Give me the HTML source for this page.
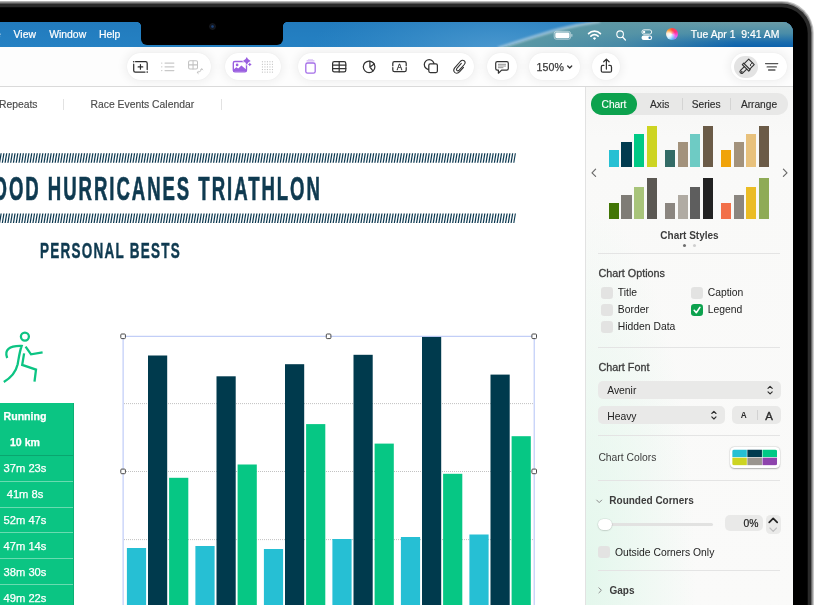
<!DOCTYPE html>
<html lang="en">
<head>
<meta charset="utf-8">
<title>Numbers – Chart Format</title>
<style>
*{box-sizing:border-box;margin:0;padding:0}
html,body{width:814px;height:606px;overflow:hidden;background:#fff}
body{position:relative;font-family:"Liberation Sans",sans-serif;color:#3a3a3a;-webkit-font-smoothing:antialiased}
.abs{position:absolute}
#stage{position:absolute;left:0;top:0;width:814px;height:605px;overflow:hidden;background:#fff}
/* bezel */
#bz1{left:-100px;top:1.2px;width:913.5px;height:800px;border-radius:31.5px;background:#a6a6a6;box-shadow:inset 0 0 0 1.2px #b9b9b9, inset 0 0 2px 1.5px #6a6a6a}
#bz2{left:-100px;top:3.5px;width:911.3px;height:800px;border-radius:29.5px;background:#282828}
#bz3{left:-100px;top:7.3px;width:907.6px;height:800px;border-radius:26px;background:#000}
#screen{left:0;top:21.6px;width:792.6px;height:700px;border-top-right-radius:10px;overflow:hidden;background:#fff}
/* menubar */
#menubar{left:0;top:0;width:793px;height:25px;background:#2080c3;z-index:3}
#menubar .mi{position:absolute;top:0;height:24px;line-height:25px;-webkit-text-stroke:.2px #fff;font-size:10.4px;color:#fff;white-space:nowrap;letter-spacing:0}
#notch{left:141px;top:0;width:142px;height:23.5px;background:#000;border-radius:0 0 6px 6px}
/* toolbar */
#toolbar{left:0;top:24.4px;width:793px;height:41px;background:#fdfdfd}
#tbline{left:0;top:64.6px;width:793px;height:1px;background:#dadada;z-index:2}
.pill{position:absolute;top:7.5px;height:27px;border-radius:13.5px;background:#fff;box-shadow:0 0 8px 3px rgba(0,0,0,.05),0 0 1.5px rgba(0,0,0,.05)}
.ic{position:absolute;overflow:visible}
/* tabs */
#tabs{left:0;top:65.4px;width:585px;height:36px;background:#fff}
#tabs .t{position:absolute;top:0;height:36px;line-height:36.6px;font-size:10.35px;color:#4c4c4c;white-space:nowrap;-webkit-text-stroke:.15px #4c4c4c}
#tabs .sep{position:absolute;top:12px;width:1px;height:11px;background:#e2e2e2}
/* doc */
.hatch{position:absolute;left:-4px;width:520.5px;height:9.5px;
 background:repeating-linear-gradient(100deg,#123a50 0,#123a50 1.05px,#fff 1.05px,#fff 2.15px)}
.cond{position:absolute;white-space:nowrap;font-weight:bold;color:#0f3a50;transform-origin:0 0}
/* sidebar */
#side{left:585px;top:65.4px;width:208px;height:540px;background:radial-gradient(ellipse 110px 380px at 0% 92%,#e3f7ec,rgba(227,247,236,0)),linear-gradient(#f6f6f5 0,#f9f9f8 50px,#fafaf9 100%);border-left:1px solid #e2e2e2}
#side .lbl{position:absolute;font-size:10.35px;color:#3c3c3c;white-space:nowrap;line-height:14px}
#side .b{font-weight:bold}
#side .hr{position:absolute;left:13px;width:182px;height:1px;background:#e4e4e4}
.cb{position:absolute;width:12px;height:12px;border-radius:3.2px;background:#e3e3e2}
.dd{position:absolute;height:18px;border-radius:5px;background:#e9e9e8}

.tc{left:-25px;width:100px;text-align:center;color:#fff;-webkit-text-stroke:.25px #fff;font-size:11.2px;line-height:14px;white-space:nowrap}
.b{font-weight:bold}
.grid{left:123px;width:411px;height:1px;background:repeating-linear-gradient(90deg,#cfcfcf 0,#cfcfcf 1px,transparent 1px,transparent 2px)}
.hd{width:5.2px;height:5.2px;background:#fff;border:1px solid #555;border-radius:1px}
#side .m{-webkit-text-stroke:.3px #3c3c3c;font-size:10.8px}
#side .b{font-size:10px}
#side .d{color:#232323}
#side .seg{-webkit-text-stroke:.15px currentColor}
#side .seg{font-size:10.2px}
</style>
</head>
<body>
<div id="stage">
 <svg class="abs" style="left:0;top:0" width="814" height="606" viewBox="0 0 814 606">
  <defs><linearGradient id="bzg" x1="0" y1="0" x2="1" y2="1"><stop offset="0" stop-color="#b0b0b0"/><stop offset=".5" stop-color="#c4c4c4"/><stop offset="1" stop-color="#a8a8a8"/></linearGradient></defs>
  <rect x="-100" y="0.9" width="913.7" height="800" rx="32" fill="url(#bzg)"/>
  <rect x="-100" y="2.1" width="912.5" height="800" rx="30.8" fill="#858585"/>
  <rect x="-100" y="3.5" width="911.3" height="800" rx="29.6" fill="#2a2a2a"/>
  <rect x="-100" y="7.3" width="907.7" height="800" rx="26" fill="#000"/>
 </svg>
 <div class="abs" id="screen">
  <div class="abs" id="menubar">
   <svg class="abs" style="left:0;top:0" width="793" height="25" viewBox="0 22 793 24" preserveAspectRatio="none">
    <defs>
     <linearGradient id="mbL" x1="0" y1="0" x2="0" y2="1"><stop offset="0" stop-color="#227bbd"/><stop offset="1" stop-color="#2581c3"/></linearGradient>
     <radialGradient id="mbG" gradientUnits="userSpaceOnUse" cx="500" cy="50" r="190" gradientTransform="translate(0 34) scale(1 .32)"><stop offset="0" stop-color="#4f9bd0" stop-opacity=".95"/><stop offset="1" stop-color="#3a8cc6" stop-opacity="0"/></radialGradient>
     <linearGradient id="mbR" x1="0" y1="0" x2="0" y2="1"><stop offset="0" stop-color="#6a9ca7"/><stop offset=".45" stop-color="#4a8da8"/><stop offset=".8" stop-color="#1b6dad"/><stop offset="1" stop-color="#0c62ad"/></linearGradient>
     <linearGradient id="mbV" x1="0" y1="0" x2="1" y2="0"><stop offset="0" stop-color="#5d9aa4" stop-opacity="1"/><stop offset=".4" stop-color="#5b97a5" stop-opacity=".75"/><stop offset=".8" stop-color="#5b97a5" stop-opacity="0"/></linearGradient>
     <filter id="bl" x="-5%" y="-30%" width="110%" height="160%"><feGaussianBlur stdDeviation=".9"/></filter>
    </defs>
    <rect x="0" y="22" width="793" height="24" fill="url(#mbL)"/>
    <rect x="0" y="22" width="793" height="24" fill="url(#mbG)"/>
    <path d="M503 46 C540 36 560 27 596 22 L793 22 L793 46 Z" fill="url(#mbR)"/>
    <path d="M503 46 C540 36 560 27 596 22 L793 22 L793 46 Z" fill="url(#mbV)"/>
    <path d="M498 47 C538 35.5 560 26.5 600 21.5" fill="none" stroke="#a9cadb" stroke-opacity=".85" stroke-width="2.6" filter="url(#bl)"/>
    <!-- battery -->
    <rect x="554.2" y="31" width="16.4" height="7.6" rx="2.2" fill="none" stroke="#fff" stroke-opacity=".55" stroke-width=".9"/>
    <rect x="555.3" y="32.1" width="14.2" height="5.4" rx="1.3" fill="#fff"/>
    <rect x="571.3" y="33.4" width="1.1" height="2.8" rx=".5" fill="#fff" fill-opacity=".6"/>
    <!-- wifi -->
    <g fill="none" stroke="#fff" stroke-width="1.7" stroke-linecap="round">
     <path d="M588.6 33.2 A8.4 8.4 0 0 1 600.4 33.2"/>
     <path d="M590.9 35.6 A5.1 5.1 0 0 1 598.1 35.6"/>
    </g>
    <path d="M592.9 37.5 A2.3 2.3 0 0 1 596.1 37.5 L594.5 39.2 Z" fill="#fff"/>
    <!-- search -->
    <circle cx="620.1" cy="33.8" r="3.3" fill="none" stroke="#fff" stroke-width="1.1"/>
    <path d="M622.6 36.4 L625.4 39.3" stroke="#fff" stroke-width="1.25" stroke-linecap="round"/>
    <!-- control center -->
    <rect x="641.9" y="29.5" width="9.8" height="4.2" rx="2.1" fill="none" stroke="#fff" stroke-width=".85"/>
    <circle cx="644.1" cy="31.6" r="1.15" fill="#fff"/>
    <rect x="641.5" y="34.9" width="10.6" height="4.4" rx="2.2" fill="#fff"/>
    <circle cx="649.7" cy="37.1" r="1.25" fill="#2f79aa"/>
   </svg>
   <div class="abs" style="left:666.1px;top:6.7px;width:11.8px;height:11.8px;border-radius:6px;background:radial-gradient(circle at 36% 58%,rgba(255,255,255,.9) 0,rgba(255,255,255,.55) 22%,rgba(255,255,255,0) 50%),conic-gradient(from 0deg,#ff4a3c,#ff2f86 60deg,#f05cf0 115deg,#46b8ff 180deg,#cfeeff 235deg,#ffe2c4 275deg,#ff9a28 320deg,#ff4a3c)"></div>
   <div class="mi" style="left:-41.3px;opacity:.7">Organize</div>
   <div class="mi" style="left:13.6px">View</div>
   <div class="mi" style="left:49.2px">Window</div>
   <div class="mi" style="left:99px">Help</div>
   <div class="mi" style="left:690.8px">Tue Apr 1&nbsp; 9:41 AM</div>
   <div class="abs" id="notch"><div class="abs" style="left:67.6px;top:1.9px;width:7px;height:7px;border-radius:3.5px;background:radial-gradient(circle,#1b4277 0,#173460 1.1px,#10141c 1.7px,#15171c 3px,#0a0a0c 3.5px)"></div></div>
   <div class="abs" style="left:137px;top:0;width:4px;height:4px;background:radial-gradient(circle at 0 100%,rgba(0,0,0,0) 3.6px,#000 4.2px)"></div>
   <div class="abs" style="left:283px;top:0;width:4px;height:4px;background:radial-gradient(circle at 100% 100%,rgba(0,0,0,0) 3.6px,#000 4.2px)"></div>
  </div>
  <!--MENUBAR_END-->
  <div class="abs" id="toolbar">
   <div class="pill" style="left:126.5px;width:84px"></div>
   <div class="pill" style="left:225px;width:56px"></div>
   <div class="pill" style="left:297.5px;width:176px"></div>
   <div class="pill" style="left:487.3px;width:29.7px"></div>
   <div class="pill" style="left:529.3px;width:50.3px"></div>
   <div class="pill" style="left:592.2px;width:28px"></div>
   <div class="pill" style="left:730.7px;width:56.2px"></div>
   <div class="abs" style="left:734px;top:9.7px;width:24px;height:22px;border-radius:11px;background:#e3e3e3"></div>
   <div class="abs" style="left:536.6px;top:0;height:40px;line-height:42.5px;font-size:10.6px;color:#3b3b3b;letter-spacing:.1px;-webkit-text-stroke:.25px #3b3b3b">150%</div>
   <svg class="abs" style="left:0;top:0" width="793" height="40" viewBox="0 46 793 40" fill="none" stroke-linecap="round" stroke-linejoin="round">
    <!-- 1 insert -->
    <g stroke="#2e2e2e" stroke-width="1.25">
     <path d="M135.6 61.7 H145.6 Q147.2 61.7 147.2 63.3 V69.6"/>
     <path d="M145 72.1 H135.3 Q133.7 72.1 133.7 70.5 V64.2"/>
     <path d="M140.45 64.6 V69.2 M138.15 66.9 H142.75" stroke-width="1.2"/>
    </g>
    <circle cx="133.7" cy="61.7" r=".8" fill="#2e2e2e"/><circle cx="147.2" cy="72.1" r=".8" fill="#2e2e2e"/>
    <!-- 2 list -->
    <g stroke="#c9c9c9" stroke-width="1.1">
     <path d="M165 63.1 H173.9 M165 66.85 H173.9 M165 70.6 H173.9"/>
     <path d="M161.7 63.1 h.1 M161.7 66.85 h.1 M161.7 70.6 h.1" stroke-width="1.4"/>
    </g>
    <!-- 3 grid arrows -->
    <g stroke="#c2c2c2" stroke-width="1.05">
     <rect x="188.6" y="60.7" width="8.9" height="8.3" rx="1.4"/>
     <path d="M193.05 60.7 V69 M188.6 64.85 H197.5"/>
     <path d="M197.3 72.5 Q201.3 72.3 201.7 68.9 M198.3 71.5 L197.1 72.5 L198.3 73.6 M200.6 69.9 L201.7 68.7 L202.8 69.9" stroke-width=".9"/>
    </g>
    <!-- 4 image sparkle -->
    <g>
     <rect x="233.3" y="61.5" width="13.2" height="10.4" rx="1.6" stroke="#9a5fe0" stroke-width="1.35"/>
     <path d="M233.6 69.6 L236.3 67.2 L238.2 68.6 L241.4 65.4 L246.2 69.4 V71 Q246.2 71.6 245.4 71.6 H234.4 Q233.6 71.6 233.6 71 Z" fill="#9a5fe0"/>
     <circle cx="237.1" cy="64.9" r="1.35" fill="#9a5fe0"/>
     <path d="M246.8 57.1 Q247.7 60.1 250.7 61 Q247.7 61.9 246.8 64.9 Q245.9 61.9 242.9 61 Q245.9 60.1 246.8 57.1Z" fill="#9a5fe0" stroke="#fff" stroke-width="1.2" paint-order="stroke"/>
     <path d="M249.8 62.5 Q250.3 63.9 251.7 64.4 Q250.3 64.9 249.8 66.3 Q249.3 64.9 247.9 64.4 Q249.3 63.9 249.8 62.5Z" fill="#9a5fe0" stroke="#fff" stroke-width=".8" paint-order="stroke"/>
    </g>
    <!-- 5 dotted grid -->
    <g fill="#c6c6c6">
     <g id="dr"><rect x="261.9" y="61.2" width="1.1" height="1.1"/><rect x="264.4" y="61.2" width="1.1" height="1.1"/><rect x="266.9" y="61.2" width="1.1" height="1.1"/><rect x="269.4" y="61.2" width="1.1" height="1.1"/><rect x="271.9" y="61.2" width="1.1" height="1.1"/></g>
     <use href="#dr" y="2.6"/><use href="#dr" y="5.2"/><use href="#dr" y="7.8"/><use href="#dr" y="10.4"/>
    </g>
    <!-- 6 purple stack -->
    <g stroke="#a46de8">
     <rect x="305.8" y="63" width="9.4" height="10.2" rx="1.8" stroke-width="1.3"/>
     <path d="M307 60.9 H314" stroke-width="1" stroke-opacity=".65"/>
     <path d="M308.4 59.5 H312.6" stroke-width=".9" stroke-opacity=".35"/>
    </g>
    <!-- 7 table -->
    <g stroke="#333" stroke-width="1.25">
     <rect x="332.6" y="61.7" width="13.2" height="10.2" rx="1.7"/>
     <path d="M332.6 65.1 H345.8 M332.6 68.5 H345.8 M339.2 61.7 V71.9"/>
    </g>
    <!-- 8 pie -->
    <g stroke="#333" stroke-width="1.25">
     <circle cx="369.1" cy="66.8" r="5.8"/>
     <path d="M369.9 61.2 V67 L374.3 64 M369.9 67 L372.9 70.9"/>
    </g>
    <!-- 9 textbox -->
    <g stroke="#333" stroke-width="1.25">
     <path d="M392.8 65.8 V63.3 Q392.8 61.7 394.4 61.7 H404.6 Q406.2 61.7 406.2 63.3 V65.8 M406.2 67.6 V70.1 Q406.2 71.7 404.6 71.7 H394.4 Q392.8 71.7 392.8 70.1 V67.6"/>
    </g>
    <!-- 10 shapes -->
    <g stroke="#333" stroke-width="1.25">
     <circle cx="429.2" cy="64.6" r="4.9"/>
     <rect x="428.8" y="63.9" width="8.6" height="8.6" rx="1.5" fill="#fff"/>
    </g>
    <!-- 11 paperclip -->
    <g stroke="#333" stroke-width="1.1">
     <path d="M461.3 63.4 L456.9 68.3 Q455.9 69.7 457 70.6 Q458.1 71.3 459.2 70.2 L464.3 64.5 Q466.1 62.2 464.1 60.7 Q462.2 59.6 460.3 61.5 L454.7 67.8 Q452.6 70.6 455 72.6 Q457.4 74.2 459.7 71.7 L463.5 67.4"/>
    </g>
    <!-- 12 comment -->
    <g stroke="#333" stroke-width="1.2">
     <path d="M497.3 61.7 H506.7 Q508.3 61.7 508.3 63.3 V68.5 Q508.3 70.1 506.7 70.1 H501.6 L498.4 73.2 V70.1 H497.3 Q495.7 70.1 495.7 68.5 V63.3 Q495.7 61.7 497.3 61.7Z"/>
     <path d="M498.4 64.3 H505.6 M498.4 66 H505.6 M498.4 67.7 H503" stroke="#777" stroke-width=".8"/>
    </g>
    <!-- zoom chevron -->
    <path d="M567.7 66 L569.7 68 L571.7 66" stroke="#333" stroke-width="1.3"/>
    <!-- 13 share -->
    <g stroke="#333" stroke-width="1.25">
     <path d="M603.9 65.4 H602.8 Q601.3 65.4 601.3 66.9 V70.7 Q601.3 72.2 602.8 72.2 H610 Q611.5 72.2 611.5 70.7 V66.9 Q611.5 65.4 610 65.4 H608.9"/>
     <path d="M606.4 69 V59.3 M603.7 61.8 L606.4 59.1 L609.1 61.8"/>
    </g>
    <!-- 14 brush -->
    <g stroke="#333" stroke-width="1.1" transform="translate(746.1 67.3) rotate(45)">
     <path d="M-3.9 -1.2 V-7.6 H3.9 V-1.2"/>
     <path d="M1.2 -7.6 V-4.4 L2.6 -4.4" stroke-width=".9"/>
     <path d="M-4.6 -1.2 H4.6 V.8 H-4.6 Z"/>
     <path d="M-1.7 .8 V6.2 Q-1.7 8 0 8 Q1.7 8 1.7 6.2 V.8"/>
     <circle cx="0" cy="6.3" r=".35"/>
    </g>
    <!-- 15 lines -->
    <g stroke="#555">
     <path d="M765.5 63.6 H777.8" stroke-width="1.1"/>
     <path d="M767.2 66.9 H776.3" stroke-width="1.4"/>
     <path d="M768.6 70.1 H774.9" stroke-width="1.5"/>
    </g>
    <text x="399.5" y="69.6" text-anchor="middle" font-family="Liberation Sans, sans-serif" font-size="8.2" fill="#333" stroke="#333" stroke-width=".3">A</text>
   </svg>
  </div>
  <div class="abs" id="tbline"></div>
  <!--TOOLBAR_END-->
  <div class="abs" id="tabs">
   <div class="t" style="left:-37.3px">Record Repeats</div>
   <div class="sep" style="left:63px"></div>
   <div class="t" style="left:90.6px">Race Events Calendar</div>
   <div class="sep" style="left:220.5px"></div>
  </div>
  <!--TABS_END-->
  <div class="abs" id="doc" style="left:0;top:-21.6px;width:585px;height:640px">
   <svg class="abs" style="left:0;top:150px" width="520" height="76" viewBox="0 150 520 76">
    <g stroke="#0e3a51" stroke-width="9.5" stroke-dasharray="1.25 1.53" fill="none">
     <path d="M-3 157.9 H515.2" transform="translate(25.8 0) skewX(-9.3)"/>
     <path d="M-3 218.3 H515.2" transform="translate(35.7 0) skewX(-9.3)"/>
    </g>
   </svg>
   <div class="cond" id="ttl" style="left:-27px;top:168.9px;font-size:34px;line-height:38px;letter-spacing:3.6px;transform:scaleX(.546);-webkit-text-stroke:.7px #0f3a50">WOOD HURRICANES TRIATHLON</div>
   <div class="cond" id="sub" style="left:40.2px;top:237.7px;font-size:22.8px;line-height:25px;letter-spacing:2.1px;transform:scaleX(.592);-webkit-text-stroke:.5px #0f3a50">PERSONAL BESTS</div>
   <svg class="abs" style="left:0;top:325px" width="60" height="65" viewBox="0 325 60 65" fill="none" stroke="#0cc483" stroke-width="2.3" stroke-linecap="butt" stroke-linejoin="miter">
    <circle cx="24.9" cy="336.6" r="4"/>
    <path d="M7.2 358 C4 350 9 345.6 21.6 346 C19.5 352 18.8 358 17.6 364.5 C15.5 373.5 10.5 378 3.8 382"/>
    <path d="M25.6 346.6 L31 354.3 L42.6 352.4"/>
    <path d="M24.1 353.4 L22.2 364.9 L36 369.6 L34.5 381.6"/>
   </svg>
   <div class="abs" style="left:-30px;top:402.7px;width:103.6px;height:210px;background:#0bc583;border-right:1px solid #0ab075"></div>
   <div class="abs" style="left:-30px;top:455.0px;width:103px;height:1px;background:#0aa56f"></div>
   <div class="abs" style="left:-30px;top:480.8px;width:103px;height:1px;background:#6adbb0"></div>
   <div class="abs" style="left:-30px;top:506.6px;width:103px;height:1px;background:#6adbb0"></div>
   <div class="abs" style="left:-30px;top:532.4px;width:103px;height:1px;background:#6adbb0"></div>
   <div class="abs" style="left:-30px;top:558.2px;width:103px;height:1px;background:#6adbb0"></div>
   <div class="abs" style="left:-30px;top:584.0px;width:103px;height:1px;background:#6adbb0"></div>
   <div class="abs tc b" style="top:408.6px;font-size:10.6px">Running</div>
   <div class="abs tc b" style="top:435.3px;font-size:10.6px">10 km</div>
   <div class="abs tc" style="top:461.0px">37m 23s</div>
   <div class="abs tc" style="top:486.9px">41m 8s</div>
   <div class="abs tc" style="top:512.8px">52m 47s</div>
   <div class="abs tc" style="top:538.7px">47m 14s</div>
   <div class="abs tc" style="top:564.6px">38m 30s</div>
   <div class="abs tc" style="top:590.5px">49m 22s</div>
   <svg class="abs" id="chart" style="left:0;top:320px" width="585" height="300" viewBox="0 320 585 300">
    <g stroke="#c2c2c2" stroke-width="1" stroke-dasharray="1 1" fill="none"><path d="M124 403.6 H534 M124 471.5 H534 M124 539.6 H534"/></g>
    <rect x="126.9" y="548" width="19.2" height="92.0" fill="#26bfd4"/>
    <rect x="148.0" y="355.5" width="19.2" height="284.5" fill="#003a4d"/>
    <rect x="169.1" y="477.8" width="19.2" height="162.2" fill="#06c784"/>
    <rect x="195.4" y="546" width="19.2" height="94.0" fill="#26bfd4"/>
    <rect x="216.5" y="376.3" width="19.2" height="263.7" fill="#003a4d"/>
    <rect x="237.6" y="464.5" width="19.2" height="175.5" fill="#06c784"/>
    <rect x="263.9" y="549" width="19.2" height="91.0" fill="#26bfd4"/>
    <rect x="285.0" y="364.2" width="19.2" height="275.8" fill="#003a4d"/>
    <rect x="306.1" y="424.1" width="19.2" height="215.9" fill="#06c784"/>
    <rect x="332.4" y="539" width="19.2" height="101.0" fill="#26bfd4"/>
    <rect x="353.5" y="354.8" width="19.2" height="285.2" fill="#003a4d"/>
    <rect x="374.6" y="443.6" width="19.2" height="196.4" fill="#06c784"/>
    <rect x="400.9" y="537" width="19.2" height="103.0" fill="#26bfd4"/>
    <rect x="422.0" y="336.8" width="19.2" height="303.2" fill="#003a4d"/>
    <rect x="443.1" y="473.8" width="19.2" height="166.2" fill="#06c784"/>
    <rect x="469.4" y="534.5" width="19.2" height="105.5" fill="#26bfd4"/>
    <rect x="490.5" y="374.6" width="19.2" height="265.4" fill="#003a4d"/>
    <rect x="511.6" y="436.2" width="19.2" height="203.8" fill="#06c784"/>
    <path d="M123.1 640 V336.3 H534.2 V640" fill="none" stroke="#b3c2f6" stroke-width="1"/>
    <rect x="120.8" y="334.0" width="4.6" height="4.6" rx=".9" fill="#fff" stroke="#4a4a4a" stroke-width="1"/>
    <rect x="326.3" y="334.0" width="4.6" height="4.6" rx=".9" fill="#fff" stroke="#4a4a4a" stroke-width="1"/>
    <rect x="531.9" y="334.0" width="4.6" height="4.6" rx=".9" fill="#fff" stroke="#4a4a4a" stroke-width="1"/>
    <rect x="120.8" y="469.1" width="4.6" height="4.6" rx=".9" fill="#fff" stroke="#4a4a4a" stroke-width="1"/>
    <rect x="531.9" y="469.1" width="4.6" height="4.6" rx=".9" fill="#fff" stroke="#4a4a4a" stroke-width="1"/>
   </svg>
  </div>
  <!--DOC_END-->
  <div class="abs" id="side">
   <div class="abs" id="sidein" style="left:-586px;top:-87px;width:793px;height:640px">
    <div class="abs" style="left:591px;top:93px;width:197px;height:21.6px;border-radius:10.8px;background:#e8e8e7"></div>
    <div class="abs" style="left:591px;top:93px;width:46.4px;height:21.6px;border-radius:10.8px;background:#0da24e"></div>
    <div class="abs" style="left:682.3px;top:98px;width:1px;height:12px;background:#d4d4d3"></div>
    <div class="abs" style="left:730.2px;top:98px;width:1px;height:12px;background:#d4d4d3"></div>
    <div class="lbl seg" style="left:574px;top:98px;width:80px;text-align:center;color:#fff">Chart</div>
    <div class="lbl seg" style="left:619.7px;top:98px;width:80px;text-align:center;color:#2e2e2e">Axis</div>
    <div class="lbl seg" style="left:666.2px;top:98px;width:80px;text-align:center;color:#2e2e2e">Series</div>
    <div class="lbl seg" style="left:719px;top:98px;width:80px;text-align:center;color:#2e2e2e">Arrange</div>
    <div class="abs" style="left:608.9px;top:150.4px;width:10.3px;height:16.2px;background:#26c0d3"></div>
    <div class="abs" style="left:621.4px;top:142.3px;width:10.3px;height:24.3px;background:#003b4f"></div>
    <div class="abs" style="left:634.0px;top:134.2px;width:10.3px;height:32.4px;background:#00c985"></div>
    <div class="abs" style="left:646.5px;top:126.1px;width:10.3px;height:40.5px;background:#cdd422"></div>
    <div class="abs" style="left:665.0px;top:150.4px;width:10.3px;height:16.2px;background:#336b66"></div>
    <div class="abs" style="left:677.5px;top:142.3px;width:10.3px;height:24.3px;background:#a3927c"></div>
    <div class="abs" style="left:690.1px;top:134.2px;width:10.3px;height:32.4px;background:#6ecbc4"></div>
    <div class="abs" style="left:702.6px;top:126.1px;width:10.3px;height:40.5px;background:#6b5b47"></div>
    <div class="abs" style="left:721.1px;top:150.4px;width:10.3px;height:16.2px;background:#f0a30a"></div>
    <div class="abs" style="left:733.6px;top:142.3px;width:10.3px;height:24.3px;background:#a3927c"></div>
    <div class="abs" style="left:746.2px;top:134.2px;width:10.3px;height:32.4px;background:#e8c17c"></div>
    <div class="abs" style="left:758.8px;top:126.1px;width:10.3px;height:40.5px;background:#6b5b47"></div>
    <div class="abs" style="left:608.9px;top:202.7px;width:10.3px;height:16.0px;background:#417505"></div>
    <div class="abs" style="left:621.4px;top:194.6px;width:10.3px;height:24.1px;background:#7f7c76"></div>
    <div class="abs" style="left:634.0px;top:186.6px;width:10.3px;height:32.1px;background:#a8c47a"></div>
    <div class="abs" style="left:646.5px;top:178.5px;width:10.3px;height:40.2px;background:#5b5853"></div>
    <div class="abs" style="left:665.0px;top:202.7px;width:10.3px;height:16.0px;background:#8b8680"></div>
    <div class="abs" style="left:677.5px;top:194.6px;width:10.3px;height:24.1px;background:#b0aba3"></div>
    <div class="abs" style="left:690.1px;top:186.6px;width:10.3px;height:32.1px;background:#5e5e5e"></div>
    <div class="abs" style="left:702.6px;top:178.5px;width:10.3px;height:40.2px;background:#222222"></div>
    <div class="abs" style="left:721.1px;top:202.7px;width:10.3px;height:16.0px;background:#f2704a"></div>
    <div class="abs" style="left:733.6px;top:194.6px;width:10.3px;height:24.1px;background:#8b8680"></div>
    <div class="abs" style="left:746.2px;top:186.6px;width:10.3px;height:32.1px;background:#ebbc25"></div>
    <div class="abs" style="left:758.8px;top:178.5px;width:10.3px;height:40.2px;background:#8fab56"></div>
    <svg class="abs" style="left:586px;top:160px" width="207" height="30" viewBox="586 160 207 30" fill="none" stroke="#6a6a6a" stroke-width="1.2" stroke-linecap="round" stroke-linejoin="round"><path d="M595.6 169.2 L592 172.8 L595.6 176.4"/><path d="M783.4 169.2 L787 172.8 L783.4 176.4"/></svg>
    <div class="lbl b" style="left:639.5px;top:228.7px;width:100px;text-align:center">Chart Styles</div>
    <div class="abs" style="left:682.8px;top:243.9px;width:3px;height:3px;border-radius:2px;background:#6e6e6e"></div>
    <div class="abs" style="left:692.8px;top:243.9px;width:3px;height:3px;border-radius:2px;background:#cfcfcf"></div>
    <div class="hr" style="left:598.4px;top:253px"></div>
    <div class="lbl m" style="left:598.4px;top:266.1px">Chart Options</div>
    <div class="cb" style="left:601px;top:287.0px"></div>
    <div class="lbl d" style="left:617.8px;top:286.4px">Title</div>
    <div class="cb" style="left:601px;top:303.9px"></div>
    <div class="lbl d" style="left:617.8px;top:303.3px">Border</div>
    <div class="cb" style="left:601px;top:320.8px"></div>
    <div class="lbl d" style="left:617.8px;top:320.2px">Hidden Data</div>
    <div class="cb" style="left:690.9px;top:287.0px"></div>
    <div class="lbl d" style="left:707.6999999999999px;top:286.4px">Caption</div>
    <div class="cb" style="left:690.9px;top:303.6px;background:#0da24e"></div>
    <svg class="abs" style="left:690.9px;top:303.6px" width="12" height="12" viewBox="0 0 12 12" fill="none" stroke="#fff" stroke-width="1.6" stroke-linecap="round" stroke-linejoin="round"><path d="M3.2 6.3 L5.3 8.7 L8.9 3.4"/></svg>
    <div class="lbl d" style="left:707.7px;top:303.3px">Legend</div>
    <div class="hr" style="left:598.4px;top:346.8px"></div>
    <div class="lbl m" style="left:598.4px;top:360.3px">Chart Font</div>
    <div class="dd" style="left:598.2px;top:381.1px;width:182.4px"></div>
    <div class="lbl d" style="left:607.2px;top:384.2px">Avenir</div>
    <div class="dd" style="left:598.2px;top:406.2px;width:126.4px"></div>
    <div class="lbl d" style="left:607.2px;top:409.9px">Heavy</div>
    <div class="dd" style="left:732px;top:406.2px;width:48.6px"></div>
    <div class="abs" style="left:756.5px;top:410.5px;width:1px;height:9.5px;background:#d2d2d2"></div>
    <div class="lbl" style="left:733.8px;top:409.3px;width:20px;text-align:center;font-size:8.2px;font-weight:bold;color:#2b2b2b">A</div>
    <div class="lbl" style="left:759px;top:408.6px;width:20px;text-align:center;font-size:11.4px;-webkit-text-stroke:.35px #2b2b2b;color:#2b2b2b">A</div>
    <svg class="abs" style="left:586px;top:380px" width="207" height="50" viewBox="586 380 207 50" fill="none" stroke="#2e2e2e" stroke-width="1.15" stroke-linecap="round" stroke-linejoin="round"><path d="M768 388.4 L770.1 386.3 L772.2 388.4 M768 391.8 L770.1 393.9 L772.2 391.8"/><path d="M711.8 413.5 L713.9 411.4 L716 413.5 M711.8 416.9 L713.9 419 L716 416.9"/></svg>
    <div class="hr" style="left:598.4px;top:434.7px"></div>
    <div class="lbl" style="left:598.4px;top:450.6px">Chart Colors</div>
    <div class="abs" style="left:729.6px;top:446.8px;width:50.6px;height:21.6px;border-radius:4.5px;background:#fff;box-shadow:0 .5px 1.5px rgba(0,0,0,.28),0 0 0 .5px rgba(0,0,0,.05)"></div>
    <svg class="abs" style="left:730px;top:447px" width="50" height="21" viewBox="730 447 50 21"><defs><clipPath id="swc"><rect x="732.2" y="449.5" width="44.9" height="16" rx="2"/></clipPath></defs><g clip-path="url(#swc)"><rect x="732.20" y="449.50" width="14.6" height="7.6" fill="#26c0d3"/><rect x="747.35" y="449.50" width="14.6" height="7.6" fill="#003b4f"/><rect x="762.50" y="449.50" width="14.6" height="7.6" fill="#00c985"/><rect x="732.20" y="457.70" width="14.6" height="7.6" fill="#cdd422"/><rect x="747.35" y="457.70" width="14.6" height="7.6" fill="#9a958f"/><rect x="762.50" y="457.70" width="14.6" height="7.6" fill="#8e44ad"/></g></svg>
    <div class="hr" style="left:598.4px;top:480.2px"></div>
    <div class="lbl b" style="left:609.3px;top:494.3px">Rounded Corners</div>
    <div class="abs" style="left:765.5px;top:515px;width:15px;height:18.8px;border-radius:4.5px;background:#eaeae9"></div>
    <svg class="abs" style="left:586px;top:490px" width="207" height="116" viewBox="586 490 207 116" fill="none" stroke-linecap="round" stroke-linejoin="round"><path d="M596.7 500.1 L599.2 502.6 L601.7 500.1" stroke="#8a8a8a" stroke-width="1"/><path d="M598.9 587.8 L601.4 590.3 L598.9 592.8" stroke="#8a8a8a" stroke-width="1"/><path d="M769.2 522.4 L773.2 518.4 L777.2 522.4" stroke="#222" stroke-width="1.7"/><path d="M769.9 528 L773.2 531.3 L776.5 528" stroke="#bdbdbd" stroke-width="1.1"/></svg>
    <div class="abs" style="left:599px;top:522.9px;width:114px;height:3px;border-radius:1.5px;background:#e2e2e1"></div>
    <div class="abs" style="left:597.8px;top:519.3px;width:13.8px;height:10.8px;border-radius:5.4px;background:#fff;box-shadow:0 .5px 1.5px rgba(0,0,0,.22),0 0 0 .5px rgba(0,0,0,.06)"></div>
    <div class="dd" style="left:725px;top:515px;width:38px;height:16.4px"></div>
    <div class="lbl" style="left:718.4px;top:517.2px;width:40px;text-align:right;color:#222;-webkit-text-stroke:.2px #222">0%</div>
    <div class="cb" style="left:597.8px;top:546px"></div>
    <div class="lbl d" style="left:614.9px;top:545.8px">Outside Corners Only</div>
    <div class="hr" style="left:598.4px;top:570.2px"></div>
    <div class="lbl b" style="left:609.5px;top:584.3px">Gaps</div>
   </div>
  </div>
  <!--SIDE_END-->
 </div>
</div>
</body>
</html>
